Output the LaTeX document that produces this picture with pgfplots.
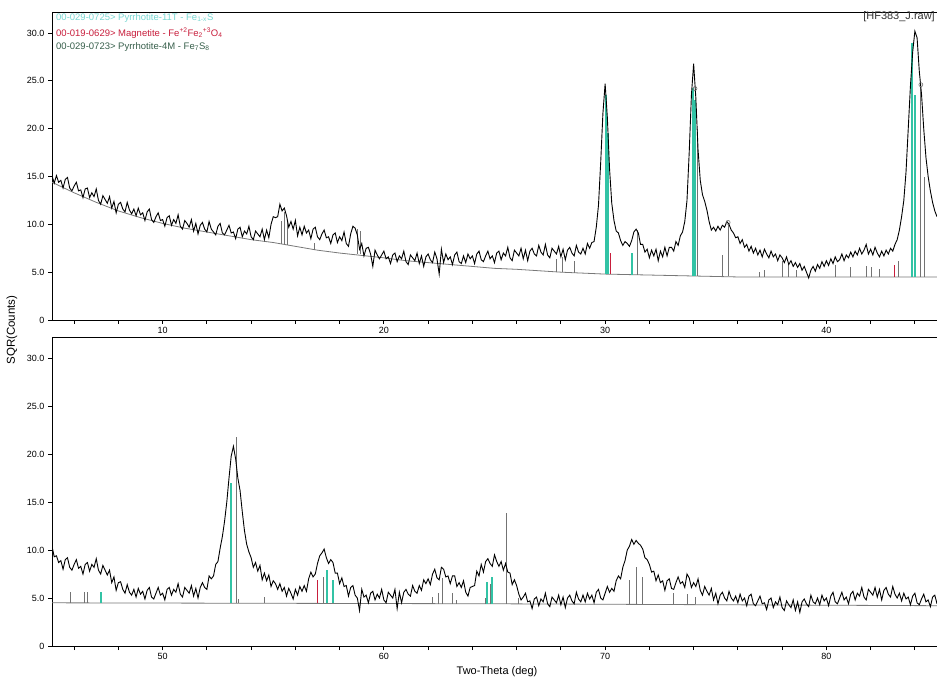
\documentclass[border=0pt]{standalone}
\usepackage{fontspec}
\setmainfont{Liberation Sans}
\usepackage{pgfplots}
\pgfplotsset{compat=1.18}
\definecolor{pyrA}{RGB}{50,195,165}
\definecolor{pyrAtext}{RGB}{120,215,210}
\definecolor{magn}{RGB}{200,30,60}
\definecolor{pyrB}{RGB}{55,95,75}
\definecolor{stick}{RGB}{115,115,115}
\definecolor{bgline}{RGB}{120,120,120}
\pgfplotsset{xrdax/.style={
  scale only axis, width=885pt, height=308pt,
  ymin=0, ymax=32.2,
  ytick={0,5,10,15,20,25,30},
  yticklabels={0,5.0,10.0,15.0,20.0,25.0,30.0},
  tick align=outside, tick pos=left,
  major tick length=4pt, minor tick length=4pt,
  every tick/.style={black, line width=0.8pt},
  axis line style={line width=0.9pt},
  ticklabel style={font=\fontsize{9}{10}\selectfont, text=black},
  /pgf/number format/assume math mode=true,
  unbounded coords=jump,
}}
\begin{document}
\begin{tikzpicture}
\path[use as bounding box] (0pt,0pt) rectangle (937pt,681pt);
% ---------------- top panel ----------------
\begin{axis}[xrdax, at={(52pt,361pt)}, anchor=south west,
  xmin=5, xmax=45, xtick={10,20,30,40}, xticklabels={10,20,30,40},
  minor xtick={6,8,...,44}]
\addplot[bgline, line width=0.8pt] coordinates {(5,14.4)(6,13.3)(7,12.3)(8,11.4)(9,10.7)(10,10.1)(11,9.6)(12,9.2)(13,8.8)(14,8.4)(15,8.1)(16,7.7)(17,7.3)(18,7.0)(19,6.75)(20,6.5)(21,6.2)(22,6.0)(23,5.8)(24,5.6)(25,5.4)(26,5.3)(27,5.15)(28,5.0)(29,4.9)(30,4.8)(31,4.75)(32,4.7)(33,4.65)(34,4.6)(35,4.55)(36,4.5)(45,4.5)};
\addplot[stick, line width=0.8pt] coordinates {
(15.35,7.96)(15.35,10.4)(15.35,nan)(15.5,7.9)(15.5,11.3)(15.5,nan)(15.65,7.85)(15.65,10.2)(15.65,nan)
(16.86,7.35)(16.86,8.1)(16.86,nan)(18.8,6.9)(18.8,9.5)(18.8,nan)(18.95,6.85)(18.95,9.3)(18.95,nan)
(27.8,5.05)(27.8,6.4)(27.8,nan)(28.06,5.0)(28.06,6.6)(28.06,nan)(28.6,4.95)(28.6,6.2)(28.6,nan)
(31.45,4.75)(31.45,9.4)(31.45,nan)(34.15,4.6)(34.15,20.0)(34.15,nan)(35.3,4.55)(35.3,6.8)(35.3,nan)
(35.56,4.55)(35.56,10.1)(35.56,nan)(36.95,4.5)(36.95,5.0)(36.95,nan)(37.2,4.5)(37.2,5.2)(37.2,nan)
(38.0,4.5)(38.0,6.2)(38.0,nan)(38.3,4.5)(38.3,5.9)(38.3,nan)(38.65,4.5)(38.65,5.2)(38.65,nan)
(40.43,4.5)(40.43,5.7)(40.43,nan)(41.1,4.5)(41.1,5.5)(41.1,nan)(41.83,4.5)(41.83,5.6)(41.83,nan)
(42.05,4.5)(42.05,5.5)(42.05,nan)(42.4,4.5)(42.4,5.3)(42.4,nan)(43.27,4.5)(43.27,6.2)(43.27,nan)
(44.27,4.5)(44.27,24.6)(44.27,nan)(44.45,4.5)(44.45,15.0)(44.45,nan)};
\addplot[magn, line width=0.8pt] coordinates {(30.22,4.8)(30.22,7.0)(30.22,nan)(43.08,4.5)(43.08,5.8)(43.08,nan)};
\addplot[pyrA, line width=2pt] coordinates {
(30.05,4.8)(30.05,23.5)(30.05,nan)(30.13,4.8)(30.13,19.5)(30.13,nan)(31.2,4.75)(31.2,7.0)(31.2,nan)
(33.95,4.6)(33.95,24.3)(33.95,nan)(34.07,4.6)(34.07,23.0)(34.07,nan)
(43.88,4.5)(43.88,29.0)(43.88,nan)(44.02,4.5)(44.02,23.5)(44.02,nan)};
\addplot[black, line width=0.9pt] coordinates {
(5.0,15.1)(5.1,14.3)(5.2,15.1)(5.3,14.4)(5.4,14.6)(5.5,13.8)(5.6,14.7)(5.7,14.9)(5.8,13.8)(5.9,13.5)
(6.0,14.0)(6.1,14.4)(6.2,13.5)(6.3,13.6)(6.4,12.8)(6.5,13.7)(6.6,13.8)(6.7,12.8)(6.8,13.3)(6.9,12.9)
(7.0,13.7)(7.1,12.5)(7.2,12.1)(7.3,13.0)(7.4,12.6)(7.5,12.2)(7.6,12.9)(7.7,11.7)(7.8,12.4)(7.9,11.2)
(8.0,12.1)(8.1,12.3)(8.2,11.6)(8.3,11.3)(8.4,12.3)(8.5,11.5)(8.6,11.1)(8.7,11.6)(8.8,10.9)(8.9,11.7)
(9.0,11.0)(9.1,11.2)(9.2,10.4)(9.3,11.3)(9.4,11.6)(9.5,10.5)(9.6,10.2)(9.7,10.8)(9.8,11.2)(9.9,10.4)
(10.0,10.5)(10.1,9.8)(10.2,10.7)(10.3,10.9)(10.4,9.9)(10.5,10.5)(10.6,10.1)(10.7,11.0)(10.8,9.8)(10.9,9.5)
(11.0,10.4)(11.1,10.1)(11.2,9.7)(11.3,10.5)(11.4,9.3)(11.5,10.1)(11.6,9.0)(11.7,9.9)(11.8,10.2)(11.9,9.5)
(12.0,9.2)(12.1,10.3)(12.2,9.5)(12.3,9.2)(12.4,8.9)(12.5,9.8)(12.6,10.1)(12.7,9.1)(12.8,8.9)(12.9,9.4)
(13.0,9.9)(13.1,9.1)(13.2,9.2)(13.3,8.5)(13.4,9.5)(13.5,9.7)(13.6,8.7)(13.7,9.3)(13.8,9.0)(13.9,9.8)
(14.0,8.7)(14.1,8.4)(14.2,9.3)(14.3,9.0)(14.4,8.7)(14.5,9.5)(14.6,8.4)(14.7,9.4)(14.8,8.6)(14.9,10.0)
(15.0,10.8)(15.1,10.7)(15.2,10.8)(15.3,12.1)(15.4,11.4)(15.5,11.7)(15.6,10.9)(15.7,9.7)(15.8,10.3)(15.9,9.5)
(16.0,10.4)(16.1,8.8)(16.2,9.7)(16.3,8.9)(16.4,9.8)(16.5,9.1)(16.6,9.4)(16.7,8.5)(16.8,9.5)(16.9,9.7)
(17.0,8.7)(17.1,8.4)(17.2,9.0)(17.3,9.4)(17.4,8.6)(17.5,8.7)(17.6,8.0)(17.7,8.9)(17.8,9.1)(17.9,8.1)
(18.0,8.7)(18.1,8.3)(18.2,9.2)(18.3,8.0)(18.4,7.7)(18.5,9.0)(18.6,9.8)(18.7,9.6)(18.8,8.9)(18.9,7.4)
(19.0,8.0)(19.1,6.7)(19.2,7.5)(19.3,7.6)(19.4,6.9)(19.5,5.6)(19.6,7.3)(19.7,6.8)(19.8,6.4)(19.9,6.8)
(20.0,7.2)(20.1,6.4)(20.2,6.6)(20.3,5.9)(20.4,6.8)(20.5,7.0)(20.6,6.1)(20.7,6.7)(20.8,6.4)(20.9,7.2)
(21.0,6.1)(21.1,5.8)(21.2,6.8)(21.3,6.5)(21.4,6.2)(21.5,7.0)(21.6,5.9)(21.7,6.7)(21.8,5.6)(21.9,6.6)
(22.0,6.9)(22.1,6.3)(22.2,6.0)(22.3,7.1)(22.4,6.4)(22.5,4.8)(22.6,7.4)(22.7,6.0)(22.8,6.9)(22.9,6.3)
(23.0,6.6)(23.1,5.8)(23.2,6.8)(23.3,7.1)(23.4,6.1)(23.5,5.9)(23.6,6.7)(23.7,6.0)(23.8,6.9)(23.9,6.4)
(24.0,6.7)(24.1,5.9)(24.2,6.9)(24.3,7.2)(24.4,6.3)(24.5,6.1)(24.6,6.7)(24.7,7.2)(24.8,6.4)(24.9,6.7)
(25.0,6.0)(25.1,7.0)(25.2,7.2)(25.3,6.3)(25.4,7.0)(25.5,6.7)(25.6,7.6)(25.7,6.5)(25.8,6.2)(25.9,7.3)
(26.0,7.0)(26.1,6.7)(26.2,7.5)(26.3,6.4)(26.4,7.3)(26.5,6.2)(26.6,7.2)(26.7,7.5)(26.8,6.9)(26.9,6.7)
(27.0,7.8)(27.1,7.1)(27.2,6.8)(27.3,7.9)(27.4,6.8)(27.5,6.5)(27.6,7.5)(27.7,7.2)(27.8,6.9)(27.9,7.7)
(28.0,6.6)(28.1,7.4)(28.2,6.3)(28.3,7.3)(28.4,7.6)(28.5,7.0)(28.6,6.7)(28.7,7.8)(28.8,7.1)(28.9,6.9)
(29.0,7.5)(29.1,6.9)(29.2,8.0)(29.3,7.5)(29.4,8.1)(29.5,8.2)(29.6,9.7)(29.7,12.0)(29.8,16.5)(29.9,21.6)
(30.0,24.7)(30.1,21.2)(30.2,15.8)(30.3,12.2)(30.4,10.4)(30.5,9.3)(30.6,9.1)(30.7,8.3)(30.8,7.8)(30.9,8.2)
(31.0,8.0)(31.1,7.7)(31.2,8.3)(31.3,9.2)(31.4,9.5)(31.5,9.1)(31.6,7.9)(31.7,7.9)(31.8,7.1)(31.9,7.4)
(32.0,6.5)(32.1,7.3)(32.2,6.7)(32.3,7.4)(32.4,6.2)(32.5,7.2)(32.6,6.6)(32.7,7.6)(32.8,6.7)(32.9,7.6)
(33.0,7.6)(33.1,7.2)(33.2,8.2)(33.3,7.8)(33.4,8.8)(33.5,9.2)(33.6,10.3)(33.7,12.5)(33.8,17.5)(33.9,23.5)
(34.0,26.8)(34.1,23.2)(34.2,17.8)(34.3,14.6)(34.4,13.1)(34.5,12.4)(34.6,11.5)(34.7,10.3)(34.8,9.4)(34.9,9.7)
(35.0,9.3)(35.1,9.8)(35.2,9.4)(35.3,9.9)(35.4,9.7)(35.5,10.3)(35.6,10.0)(35.7,9.4)(35.8,9.1)(35.9,8.6)
(36.0,8.7)(36.1,8.0)(36.2,8.4)(36.3,7.6)(36.4,7.9)(36.5,7.2)(36.6,7.7)(36.7,7.0)(36.8,7.5)(36.9,6.8)
(37.0,7.3)(37.1,6.6)(37.2,7.4)(37.3,6.9)(37.4,6.5)(37.5,7.2)(37.6,6.6)(37.7,6.9)(37.8,6.2)(37.9,6.8)
(38.0,6.5)(38.1,6.0)(38.2,6.6)(38.3,5.8)(38.4,6.2)(38.5,5.6)(38.6,6.0)(38.7,5.5)(38.8,5.9)(38.9,5.2)
(39.0,5.6)(39.1,5.0)(39.2,4.4)(39.3,5.2)(39.4,5.6)(39.5,5.1)(39.6,5.8)(39.7,5.4)(39.8,6.1)(39.9,5.6)
(40.0,6.2)(40.1,5.7)(40.2,6.4)(40.3,5.9)(40.4,6.6)(40.5,6.1)(40.6,6.3)(40.7,6.9)(40.8,6.2)(40.9,6.8)
(41.0,6.5)(41.1,7.1)(41.2,6.6)(41.3,7.2)(41.4,6.8)(41.5,7.5)(41.6,6.9)(41.7,7.3)(41.8,7.9)(41.9,6.9)
(42.0,7.4)(42.1,6.8)(42.2,7.6)(42.3,7.0)(42.4,6.6)(42.5,7.2)(42.6,6.7)(42.7,7.3)(42.8,6.9)(42.9,7.5)
(43.0,7.2)(43.1,7.9)(43.2,8.4)(43.3,9.4)(43.4,10.8)(43.5,12.5)(43.6,15.5)(43.7,20.0)(43.8,24.5)(43.9,28.0)
(44.0,30.2)(44.1,29.5)(44.2,26.0)(44.3,23.6)(44.4,20.0)(44.5,17.0)(44.6,15.0)(44.7,13.5)(44.8,12.3)(44.9,11.4)(45.0,10.8)};
\addplot[only marks, mark=o, mark size=2pt, stick, mark options={line width=0.6pt}] coordinates {(34.06,24.2)(35.56,10.2)(44.27,24.6)};
\end{axis}
% ---------------- bottom panel ----------------
\begin{axis}[xrdax, at={(52pt,35pt)}, anchor=south west, height=309pt,
  xmin=45, xmax=85, xtick={50,60,70,80}, xticklabels={50,60,70,80},
  minor xtick={46,48,...,84}]
\addplot[bgline, line width=0.8pt] coordinates {(45,4.5)(55,4.45)(65,4.4)(75,4.3)(85,4.2)};
\addplot[stick, line width=0.8pt] coordinates {
(45.83,4.5)(45.83,5.6)(45.83,nan)(46.48,4.5)(46.48,5.6)(46.48,nan)(46.6,4.5)(46.6,5.6)(46.6,nan)
(53.33,4.47)(53.33,21.8)(53.33,nan)(53.43,4.47)(53.43,4.9)(53.43,nan)(54.6,4.45)(54.6,5.1)(54.6,nan)
(57.27,4.45)(57.27,7.2)(57.27,nan)(62.2,4.42)(62.2,5.1)(62.2,nan)(62.46,4.42)(62.46,5.5)(62.46,nan)
(62.63,4.42)(62.63,7.1)(62.63,nan)(63.1,4.42)(63.1,5.5)(63.1,nan)(63.27,4.42)(63.27,4.8)(63.27,nan)
(64.58,4.42)(64.58,5.0)(64.58,nan)(64.8,4.42)(64.8,6.5)(64.8,nan)(65.53,4.4)(65.53,13.85)(65.53,nan)
(66.1,4.4)(66.1,5.0)(66.1,nan)(71.08,4.37)(71.08,6.9)(71.08,nan)(71.4,4.37)(71.4,8.2)(71.4,nan)
(71.67,4.37)(71.67,7.2)(71.67,nan)(73.1,4.35)(73.1,5.5)(73.1,nan)(73.7,4.35)(73.7,5.4)(73.7,nan)
(74.1,4.35)(74.1,5.1)(74.1,nan)};
\addplot[magn, line width=0.8pt] coordinates {(57.0,4.45)(57.0,6.9)(57.0,nan)};
\addplot[pyrA, line width=2pt] coordinates {
(47.23,4.48)(47.23,5.6)(47.23,nan)(53.1,4.47)(53.1,17.0)(53.1,nan)
(57.45,4.45)(57.45,7.9)(57.45,nan)(57.68,4.45)(57.68,6.9)(57.68,nan)
(64.67,4.42)(64.67,6.7)(64.67,nan)(64.9,4.42)(64.9,7.2)(64.9,nan)};
\addplot[black, line width=0.9pt] coordinates {
(45.0,10.4)(45.1,9.3)(45.2,9.4)(45.3,8.7)(45.4,8.9)(45.5,8.0)(45.6,9.0)(45.7,9.2)(45.8,8.2)(45.9,7.9)
(46.0,8.5)(46.1,9.0)(46.2,8.1)(46.3,8.3)(46.4,7.5)(46.5,8.5)(46.6,8.7)(46.7,7.8)(46.8,8.5)(46.9,8.2)
(47.0,9.1)(47.1,7.9)(47.2,7.5)(47.3,8.4)(47.4,7.9)(47.5,7.4)(47.6,7.9)(47.7,6.6)(47.8,7.2)(47.9,5.8)
(48.0,6.6)(48.1,6.7)(48.2,5.9)(48.3,5.5)(48.4,6.4)(48.5,5.6)(48.6,5.3)(48.7,5.9)(48.8,5.1)(48.9,6.0)
(49.0,5.4)(49.1,5.7)(49.2,4.9)(49.3,5.8)(49.4,6.1)(49.5,5.1)(49.6,4.9)(49.7,5.5)(49.8,6.1)(49.9,5.3)
(50.0,5.5)(50.1,4.8)(50.2,5.9)(50.3,6.1)(50.4,5.3)(50.5,5.9)(50.6,5.6)(50.7,6.5)(50.8,5.4)(50.9,5.1)
(51.0,6.1)(51.1,5.8)(51.2,5.5)(51.3,6.3)(51.4,5.2)(51.5,6.0)(51.6,5.0)(51.7,6.1)(51.8,6.6)(51.9,6.1)
(52.0,5.9)(52.1,7.3)(52.2,7.0)(52.3,7.3)(52.4,8.5)(52.5,8.8)(52.6,10.2)(52.7,11.4)(52.8,13.0)(52.9,15.0)
(53.0,17.5)(53.1,19.8)(53.2,20.8)(53.3,19.5)(53.4,17.5)(53.5,16.2)(53.6,14.0)(53.7,12.0)(53.8,10.6)(53.9,9.8)
(54.0,9.2)(54.1,8.2)(54.2,8.7)(54.3,7.8)(54.4,8.4)(54.5,6.9)(54.6,7.6)(54.7,6.8)(54.8,7.4)(54.9,6.2)
(55.0,6.8)(55.1,6.5)(55.2,5.9)(55.3,6.5)(55.4,5.7)(55.5,6.1)(55.6,5.2)(55.7,6.0)(55.8,5.5)(55.9,4.9)
(56.0,5.9)(56.1,5.3)(56.2,6.2)(56.3,5.7)(56.4,6.3)(56.5,5.7)(56.6,7.0)(56.7,7.7)(56.8,7.2)(56.9,7.5)
(57.0,8.6)(57.1,9.4)(57.2,9.7)(57.3,10.1)(57.4,9.2)(57.5,8.6)(57.6,9.0)(57.7,8.7)(57.8,7.6)(57.9,7.6)
(58.0,6.5)(58.1,7.1)(58.2,6.2)(58.3,6.3)(58.4,5.2)(58.5,6.1)(58.6,6.3)(58.7,5.3)(58.8,5.0)(58.9,3.7)
(59.0,5.9)(59.1,5.1)(59.2,5.3)(59.3,4.5)(59.4,5.5)(59.5,5.7)(59.6,4.8)(59.7,5.4)(59.8,5.0)(59.9,5.9)
(60.0,4.8)(60.1,4.5)(60.2,5.6)(60.3,5.3)(60.4,5.0)(60.5,5.9)(60.6,3.9)(60.7,5.6)(60.8,4.5)(60.9,5.6)
(61.0,5.9)(61.1,5.4)(61.2,5.2)(61.3,6.3)(61.4,5.7)(61.5,5.5)(61.6,6.3)(61.7,5.8)(61.8,6.9)(61.9,6.5)
(62.0,7.0)(62.1,6.4)(62.2,7.5)(62.3,8.0)(62.4,7.1)(62.5,6.9)(62.6,8.2)(62.7,8.0)(62.8,7.2)(62.9,7.3)
(63.0,6.5)(63.1,7.3)(63.2,7.3)(63.3,6.2)(63.4,6.6)(63.5,6.1)(63.6,6.8)(63.7,5.6)(63.8,5.2)(63.9,6.1)
(64.0,6.2)(64.1,6.3)(64.2,7.8)(64.3,7.3)(64.4,8.5)(64.5,7.7)(64.6,8.8)(64.7,9.1)(64.8,8.6)(64.9,8.3)
(65.0,9.5)(65.1,8.8)(65.2,8.3)(65.3,8.8)(65.4,7.9)(65.5,8.6)(65.6,7.7)(65.7,7.6)(65.8,6.4)(65.9,6.9)
(66.0,6.3)(66.1,5.4)(66.2,4.8)(66.3,5.1)(66.4,5.5)(66.5,4.6)(66.6,4.7)(66.7,3.9)(66.8,4.9)(66.9,5.1)
(67.0,4.2)(67.1,4.9)(67.2,4.6)(67.3,5.5)(67.4,4.4)(67.5,4.1)(67.6,5.1)(67.7,4.8)(67.8,4.5)(67.9,5.3)
(68.0,4.3)(68.1,5.1)(68.2,4.0)(68.3,5.0)(68.4,5.3)(68.5,4.7)(68.6,4.4)(68.7,5.6)(68.8,4.9)(68.9,4.6)
(69.0,5.3)(69.1,4.6)(69.2,5.5)(69.3,4.9)(69.4,5.3)(69.5,4.5)(69.6,5.6)(69.7,5.9)(69.8,5.0)(69.9,4.8)
(70.0,5.5)(70.1,6.2)(70.2,5.6)(70.3,6.0)(70.4,5.7)(70.5,6.8)(70.6,7.3)(70.7,7.0)(70.8,8.2)(70.9,8.9)
(71.0,10.0)(71.1,10.4)(71.2,11.1)(71.3,10.6)(71.4,11.0)(71.5,10.7)(71.6,10.5)(71.7,10.1)(71.8,9.2)(71.9,9.0)
(72.0,8.5)(72.1,7.7)(72.2,7.8)(72.3,6.8)(72.4,7.4)(72.5,6.6)(72.6,6.8)(72.7,5.8)(72.8,6.8)(72.9,7.0)
(73.0,6.0)(73.1,5.9)(73.2,6.6)(73.3,7.2)(73.4,6.5)(73.5,6.7)(73.6,6.1)(73.7,7.5)(73.8,7.1)(73.9,6.1)
(74.0,6.6)(74.1,6.2)(74.2,7.0)(74.3,5.8)(74.4,5.3)(74.5,6.2)(74.6,5.7)(74.7,5.3)(74.8,6.0)(74.9,4.8)
(75.0,5.5)(75.1,4.4)(75.2,5.3)(75.3,5.6)(75.4,5.0)(75.5,4.7)(75.6,5.7)(75.7,5.0)(75.8,4.7)(75.9,5.2)
(76.0,4.5)(76.1,5.4)(76.2,4.7)(76.3,5.0)(76.4,4.2)(76.5,5.2)(76.6,5.4)(76.7,4.4)(76.8,4.2)(76.9,4.7)
(77.0,5.2)(77.1,4.4)(77.2,4.5)(77.3,3.8)(77.4,4.8)(77.5,5.0)(77.6,4.0)(77.7,4.6)(77.8,4.3)(77.9,5.1)
(78.0,4.0)(78.1,3.7)(78.2,4.7)(78.3,4.3)(78.4,4.0)(78.5,4.8)(78.6,3.7)(78.7,4.6)(78.8,3.5)(78.9,4.6)
(79.0,4.9)(79.1,4.4)(79.2,4.1)(79.3,5.3)(79.4,4.6)(79.5,4.4)(79.6,5.0)(79.7,4.3)(79.8,5.3)(79.9,4.7)
(80.0,5.0)(80.1,4.2)(80.2,5.2)(80.3,5.6)(80.4,4.6)(80.5,4.4)(80.6,5.0)(80.7,5.6)(80.8,4.8)(80.9,5.1)
(81.0,4.4)(81.1,5.4)(81.2,5.7)(81.3,4.8)(81.4,5.5)(81.5,5.2)(81.6,6.1)(81.7,5.1)(81.8,4.8)(81.9,5.9)
(82.0,5.6)(82.1,5.3)(82.2,6.1)(82.3,5.1)(82.4,5.9)(82.5,4.8)(82.6,5.8)(82.7,6.1)(82.8,5.4)(82.9,5.1)
(83.0,6.2)(83.1,5.4)(83.2,5.0)(83.3,5.5)(83.4,4.7)(83.5,5.5)(83.6,4.9)(83.7,5.1)(83.8,4.3)(83.9,5.2)
(84.0,5.5)(84.1,4.5)(84.2,4.3)(84.3,4.9)(84.4,5.4)(84.5,4.6)(84.6,4.8)(84.7,4.1)(84.8,5.1)(84.9,5.3)(85.0,4.4)};
\end{axis}
% ---------------- texts ----------------
\node[anchor=west, text=pyrAtext, font=\fontsize{9.5}{11}\selectfont, inner sep=0pt] at (56pt,663pt) {00-029-0725> Pyrrhotite-11T - Fe\textsubscript{1-x}S};
\node[anchor=west, text=magn, font=\fontsize{9.5}{11}\selectfont, inner sep=0pt] at (56pt,648pt) {00-019-0629> Magnetite - Fe\textsuperscript{+2}Fe\textsubscript{2}\textsuperscript{+3}O\textsubscript{4}};
\node[anchor=west, text=pyrB, font=\fontsize{9.5}{11}\selectfont, inner sep=0pt] at (56pt,634pt) {00-029-0723> Pyrrhotite-4M - Fe\textsubscript{7}S\textsubscript{8}};
\node[anchor=east, text=black!80, font=\fontsize{11}{13}\selectfont, inner sep=0pt] at (935pt,664pt) {[HF383\_J.raw]};
\node[rotate=90, font=\fontsize{11.5}{13}\selectfont, inner sep=0pt] at (12pt,351pt) {SQR(Counts)};
\node[font=\fontsize{11}{13}\selectfont, inner sep=0pt] at (497pt,9pt) {Two-Theta (deg)};
\end{tikzpicture}
\end{document}
